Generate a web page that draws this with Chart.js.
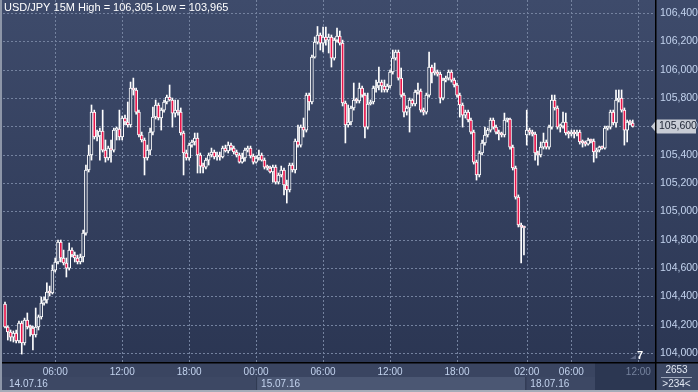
<!DOCTYPE html>
<html>
<head>
<meta charset="utf-8">
<script src="https://cdn.jsdelivr.net/npm/chart.js@4.4.1/dist/chart.umd.min.js"></script>
<style>
  html, body { margin: 0; padding: 0; background: #2f3b58; overflow: hidden; }
  canvas { display: block; }
</style>
</head>
<body>
<canvas id="myChart" width="698" height="392"></canvas>
<script>
// USD/JPY 15 minute candles, 14.07.16 01:30 .. 18.07.16 11:45
const opens = [
  104.346, 104.184, 104.149, 104.113, 104.142, 104.085, 104.212, 104.071, 104.233, 104.184,
  104.177, 104.128, 104.184, 104.255, 104.353, 104.375, 104.431, 104.424, 104.586, 104.643,
  104.784, 104.671, 104.636, 104.600, 104.727, 104.692, 104.671, 104.643, 104.678, 104.847,
  105.292, 105.398, 105.701, 105.525, 105.532, 105.567, 105.433, 105.377, 105.447, 105.433,
  105.574, 105.581, 105.525, 105.659, 105.631, 105.610, 105.871, 105.857, 105.701, 105.539,
  105.504, 105.377, 105.433, 105.560, 105.666, 105.751, 105.659, 105.715, 105.772, 105.807,
  105.786, 105.694, 105.715, 105.701, 105.553, 105.412, 105.377, 105.468, 105.490, 105.518,
  105.398, 105.320, 105.313, 105.362, 105.398, 105.419, 105.384, 105.391, 105.384, 105.447,
  105.426, 105.468, 105.447, 105.419, 105.398, 105.348, 105.377, 105.433, 105.447, 105.391,
  105.348, 105.377, 105.398, 105.362, 105.313, 105.306, 105.278, 105.313, 105.207, 105.257,
  105.292, 105.186, 105.151, 105.327, 105.292, 105.497, 105.468, 105.595, 105.574, 105.821,
  105.772, 106.089, 106.195, 106.245, 106.188, 106.231, 106.209, 106.231, 106.082, 106.209,
  106.238, 106.188, 105.765, 105.610, 105.631, 105.730, 105.786, 105.779, 105.871, 105.821,
  105.595, 105.758, 105.772, 105.871, 105.885, 105.913, 105.885, 105.857, 105.885, 105.984,
  106.082, 106.125, 105.941, 105.821, 105.701, 105.730, 105.786, 105.758, 105.842, 105.850,
  105.715, 105.701, 105.821, 106.019, 105.977, 105.984, 105.969, 105.800, 105.927, 105.941,
  105.984, 105.927, 105.892, 105.821, 105.751, 105.680, 105.701, 105.645, 105.560, 105.348,
  105.257, 105.412, 105.483, 105.539, 105.574, 105.645, 105.595, 105.560, 105.546, 105.539,
  105.645, 105.652, 105.454, 105.306, 105.101, 104.904, 104.890, 105.539, 105.574, 105.560,
  105.546, 105.412, 105.398, 105.454, 105.490, 105.454, 105.595, 105.786, 105.730, 105.595,
  105.602, 105.631, 105.553, 105.546, 105.560, 105.546, 105.560, 105.490, 105.483, 105.475,
  105.504, 105.497, 105.419, 105.433, 105.454, 105.447, 105.588, 105.595, 105.701, 105.624,
  105.786, 105.800, 105.715, 105.574, 105.631, 105.624
];
const highs = [
  104.360, 104.191, 104.163, 104.156, 104.163, 104.226, 104.226, 104.247, 104.283, 104.198,
  104.191, 104.318, 104.269, 104.396, 104.396, 104.495, 104.473, 104.622, 104.671, 104.798,
  104.798, 104.727, 104.671, 104.777, 104.742, 104.713, 104.692, 104.699, 104.868, 105.327,
  105.468, 105.751, 105.715, 105.574, 105.588, 105.715, 105.504, 105.461, 105.504, 105.588,
  105.595, 105.715, 105.673, 105.680, 105.772, 105.913, 105.941, 105.871, 105.715, 105.560,
  105.518, 105.468, 105.588, 105.737, 105.786, 105.765, 105.730, 105.786, 105.821, 105.892,
  105.800, 105.786, 105.786, 105.730, 105.567, 105.433, 105.483, 105.504, 105.553, 105.553,
  105.412, 105.341, 105.377, 105.412, 105.447, 105.433, 105.419, 105.419, 105.461, 105.468,
  105.490, 105.483, 105.461, 105.433, 105.412, 105.412, 105.447, 105.461, 105.461, 105.405,
  105.391, 105.433, 105.412, 105.377, 105.327, 105.320, 105.327, 105.327, 105.271, 105.320,
  105.306, 105.221, 105.341, 105.341, 105.511, 105.610, 105.610, 105.659, 105.835, 105.835,
  106.104, 106.231, 106.305, 106.259, 106.301, 106.301, 106.252, 106.245, 106.224, 106.294,
  106.273, 106.209, 105.779, 105.751, 105.744, 105.906, 105.800, 105.906, 105.885, 105.835,
  105.835, 105.786, 105.885, 105.927, 106.019, 105.927, 105.927, 105.899, 105.998, 106.139,
  106.139, 106.139, 106.012, 105.835, 105.744, 105.800, 105.793, 105.857, 105.906, 105.864,
  105.730, 105.835, 106.125, 106.033, 106.047, 105.998, 105.984, 105.941, 105.955, 105.998,
  105.998, 105.941, 105.906, 105.835, 105.765, 105.715, 105.715, 105.659, 105.574, 105.362,
  105.426, 105.504, 105.595, 105.588, 105.659, 105.659, 105.610, 105.574, 105.560, 105.694,
  105.659, 105.659, 105.468, 105.320, 105.116, 104.918, 104.897, 105.715, 105.588, 105.574,
  105.560, 105.426, 105.490, 105.553, 105.504, 105.610, 105.821, 105.821, 105.744, 105.617,
  105.701, 105.694, 105.567, 105.574, 105.574, 105.574, 105.574, 105.504, 105.497, 105.518,
  105.511, 105.511, 105.447, 105.461, 105.461, 105.602, 105.602, 105.715, 105.715, 105.857,
  105.857, 105.857, 105.730, 105.645, 105.645, 105.645
];
const lows = [
  104.177, 104.092, 104.085, 104.078, 104.071, 104.071, 103.993, 104.057, 104.170, 104.120,
  104.022, 104.113, 104.163, 104.240, 104.339, 104.353, 104.403, 104.417, 104.572, 104.629,
  104.643, 104.622, 104.537, 104.586, 104.678, 104.643, 104.629, 104.629, 104.643, 104.833,
  105.278, 105.362, 105.511, 105.497, 105.362, 105.419, 105.348, 105.362, 105.348, 105.419,
  105.504, 105.504, 105.504, 105.610, 105.595, 105.595, 105.821, 105.687, 105.525, 105.490,
  105.257, 105.362, 105.398, 105.539, 105.652, 105.645, 105.574, 105.701, 105.758, 105.779,
  105.595, 105.666, 105.680, 105.539, 105.257, 105.362, 105.362, 105.454, 105.468, 105.271,
  105.271, 105.271, 105.299, 105.327, 105.384, 105.370, 105.362, 105.362, 105.377, 105.419,
  105.412, 105.433, 105.405, 105.384, 105.341, 105.341, 105.355, 105.419, 105.377, 105.334,
  105.341, 105.362, 105.355, 105.299, 105.292, 105.271, 105.207, 105.193, 105.193, 105.243,
  105.116, 105.059, 105.137, 105.278, 105.271, 105.454, 105.454, 105.525, 105.560, 105.715,
  105.758, 106.082, 106.181, 106.139, 106.125, 106.174, 106.118, 106.019, 106.068, 106.195,
  106.174, 105.744, 105.483, 105.595, 105.610, 105.715, 105.765, 105.765, 105.807, 105.518,
  105.581, 105.751, 105.758, 105.842, 105.857, 105.842, 105.842, 105.842, 105.871, 105.969,
  106.068, 105.927, 105.807, 105.666, 105.680, 105.560, 105.744, 105.744, 105.828, 105.701,
  105.680, 105.687, 105.807, 105.906, 105.962, 105.955, 105.765, 105.786, 105.913, 105.927,
  105.913, 105.878, 105.807, 105.666, 105.595, 105.659, 105.631, 105.546, 105.334, 105.221,
  105.243, 105.398, 105.468, 105.525, 105.560, 105.581, 105.546, 105.504, 105.525, 105.525,
  105.631, 105.440, 105.292, 105.087, 104.890, 104.636, 104.692, 105.468, 105.539, 105.532,
  105.362, 105.327, 105.384, 105.440, 105.440, 105.440, 105.581, 105.715, 105.581, 105.560,
  105.588, 105.539, 105.518, 105.532, 105.518, 105.532, 105.475, 105.454, 105.461, 105.468,
  105.483, 105.348, 105.377, 105.419, 105.440, 105.440, 105.574, 105.581, 105.610, 105.595,
  105.772, 105.701, 105.468, 105.490, 105.610, 105.595
];
const closes = [
  104.184, 104.149, 104.113, 104.142, 104.085, 104.212, 104.071, 104.233, 104.184, 104.177,
  104.128, 104.184, 104.255, 104.353, 104.375, 104.431, 104.424, 104.586, 104.643, 104.784,
  104.671, 104.636, 104.600, 104.727, 104.692, 104.671, 104.643, 104.678, 104.847, 105.292,
  105.398, 105.701, 105.525, 105.532, 105.567, 105.433, 105.377, 105.447, 105.433, 105.574,
  105.581, 105.525, 105.659, 105.631, 105.610, 105.871, 105.857, 105.701, 105.539, 105.504,
  105.377, 105.433, 105.560, 105.666, 105.751, 105.659, 105.715, 105.772, 105.807, 105.786,
  105.694, 105.715, 105.701, 105.553, 105.412, 105.377, 105.468, 105.490, 105.518, 105.398,
  105.320, 105.313, 105.362, 105.398, 105.419, 105.384, 105.391, 105.384, 105.447, 105.426,
  105.468, 105.447, 105.419, 105.398, 105.348, 105.377, 105.433, 105.447, 105.391, 105.348,
  105.377, 105.398, 105.362, 105.313, 105.306, 105.278, 105.313, 105.207, 105.257, 105.292,
  105.186, 105.151, 105.327, 105.292, 105.497, 105.468, 105.595, 105.574, 105.821, 105.772,
  106.089, 106.195, 106.245, 106.188, 106.231, 106.209, 106.231, 106.082, 106.209, 106.238,
  106.188, 105.765, 105.610, 105.631, 105.730, 105.786, 105.779, 105.871, 105.821, 105.595,
  105.758, 105.772, 105.871, 105.885, 105.913, 105.885, 105.857, 105.885, 105.984, 106.082,
  106.125, 105.941, 105.821, 105.701, 105.730, 105.786, 105.758, 105.842, 105.850, 105.715,
  105.701, 105.821, 106.019, 105.977, 105.984, 105.969, 105.800, 105.927, 105.941, 105.984,
  105.927, 105.892, 105.821, 105.751, 105.680, 105.701, 105.645, 105.560, 105.348, 105.257,
  105.412, 105.483, 105.539, 105.574, 105.645, 105.595, 105.560, 105.546, 105.539, 105.645,
  105.652, 105.454, 105.306, 105.101, 104.904, 104.890, 104.883, 105.574, 105.560, 105.546,
  105.412, 105.398, 105.454, 105.490, 105.454, 105.595, 105.786, 105.730, 105.595, 105.602,
  105.631, 105.553, 105.546, 105.560, 105.546, 105.560, 105.490, 105.483, 105.475, 105.504,
  105.497, 105.419, 105.433, 105.454, 105.447, 105.588, 105.595, 105.701, 105.624, 105.786,
  105.800, 105.715, 105.574, 105.631, 105.624, 105.600
];

// axis labels (x is the candle slot index)
const timeTickSlots = [18, 42, 66, 90, 114, 138, 162, 187, 203, 227];
const timeTickLabels = ['06:00', '12:00', '18:00', '00:00', '06:00', '12:00', '18:00', '02:00', '06:00', '12:00'];
const dateLabels = ['14.07.16', '15.07.16', '18.07.16'];
const dateStartSlots = [-0.72, 90, 186.5];
const priceTicks = [104.0, 104.2, 104.4, 104.6, 104.8, 105.0, 105.2, 105.4, 105.6, 105.8, 106.0, 106.2, 106.4];
const chartTitle = 'USD/JPY 15M High = 106,305 Low = 103,965';
const barsCount = '2653';
const barsShown = '>234<';
const shiftMark = '7';

const FONT = 'Liberation Sans, Arial, sans-serif';
const fmt = v => v.toFixed(3).replace('.', ',');

const bodyData = opens.map((o, i) => ({ x: i, y: [o, closes[i]] }));
const wickData = lows.map((l, i) => ({ x: i, y: [l, highs[i]] }));
const bodyColors = opens.map((o, i) => closes[i] >= o ? '#33405f' : '#e8154a');

// background, axis strip, date boxes and the dotted grid
const chartBg = {
  id: 'chartBg',
  beforeDraw(chart) {
    const { ctx, chartArea: a, width, height } = chart;
    const xs = chart.scales.x, ys = chart.scales.y;
    ctx.save();
    const g = ctx.createLinearGradient(0, 0, 0, a.bottom);
    g.addColorStop(0, '#3e4b6b');
    g.addColorStop(1, '#2b3653');
    ctx.fillStyle = g;
    ctx.fillRect(0, 0, width, a.bottom);

    ctx.fillStyle = '#3a4561';
    ctx.fillRect(0, a.bottom, width, height - a.bottom);

    const rowTop = a.bottom + 14;
    for (let i = 0; i < dateLabels.length; i++) {
      const x0 = i === 0 ? 0 : xs.getPixelForValue(dateStartSlots[i]);
      const x1 = i < dateLabels.length - 1 ? xs.getPixelForValue(dateStartSlots[i + 1]) : 595;
      ctx.fillStyle = i % 2 === 1 ? '#4b5773' : '#3d4864';
      ctx.fillRect(x0, rowTop, x1 - x0, 13);
      if (i > 0) {
        ctx.fillStyle = '#2e3850';
        ctx.fillRect(x0, rowTop, 1, 13);
      }
    }
    ctx.fillStyle = '#2c3752';
    ctx.fillRect(595, a.bottom, a.right - 595, 27);
    ctx.fillStyle = '#3c4864';
    ctx.fillRect(a.right, a.bottom, width - a.right, height - a.bottom);

    ctx.fillStyle = '#74829f';
    priceTicks.forEach(v => {
      const y = Math.round(ys.getPixelForValue(v));
      for (let x = Math.ceil(a.left); x < a.right; x += 4) ctx.fillRect(x, y, 2, 1);
    });
    timeTickSlots.forEach(v => {
      const x = Math.round(xs.getPixelForValue(v));
      for (let y = 0; y < a.bottom; y += 4) ctx.fillRect(x, y, 1, 2);
    });
    ctx.restore();
  }
};

// title, date texts, price tag, frame lines
const overlay = {
  id: 'overlay',
  afterDraw(chart) {
    const { ctx, chartArea: a, width, height } = chart;
    const xs = chart.scales.x, ys = chart.scales.y;
    ctx.save();
    ctx.textBaseline = 'middle';

    ctx.font = '11px ' + FONT;
    ctx.fillStyle = '#ffffff';
    ctx.textAlign = 'left';
    ctx.fillText(chartTitle, 4, 8);

    ctx.font = '10px ' + FONT;
    ctx.fillStyle = '#c3d3ee';
    dateLabels.forEach((d, i) => {
      const x0 = i === 0 ? 9 : xs.getPixelForValue(dateStartSlots[i]) + 5;
      ctx.fillText(d, x0, a.bottom + 21);
    });

    ctx.fillStyle = '#5b6684';
    ctx.beginPath();
    ctx.moveTo(630, 359); ctx.lineTo(636, 355); ctx.lineTo(636, 359); ctx.closePath();
    ctx.fill();
    ctx.font = 'bold 11px ' + FONT;
    ctx.fillStyle = '#ffffff';
    ctx.fillText(shiftMark, 637, 356);

    const last = closes[closes.length - 1];
    const py = Math.round(ys.getPixelForValue(last)) + 0.5;
    ctx.fillStyle = '#c8ccd5';
    ctx.beginPath();
    ctx.moveTo(a.right - 4, py);
    ctx.lineTo(a.right + 2, py - 7);
    ctx.lineTo(width - 2, py - 7);
    ctx.lineTo(width - 2, py + 7);
    ctx.lineTo(a.right + 2, py + 7);
    ctx.closePath();
    ctx.fill();
    ctx.font = '10.5px ' + FONT;
    ctx.fillStyle = '#1d2434';
    ctx.fillText(fmt(last), a.right + 4, py);

    ctx.font = '10px ' + FONT;
    ctx.textAlign = 'center';
    ctx.fillStyle = '#e2e8f3';
    const cx = (a.right + width) / 2;
    ctx.fillText(barsCount, cx, a.bottom + 7);
    ctx.fillText(barsShown, cx, a.bottom + 21);
    ctx.fillStyle = '#9aa4b8';
    ctx.fillRect(a.right + 6, a.bottom + 14, width - a.right - 12, 1);

    ctx.fillStyle = '#000000';
    ctx.fillRect(a.right, 0, 1.5, height);
    ctx.fillRect(0, a.bottom - 1, width, 1.5);
    ctx.fillStyle = '#8d96a8';
    ctx.fillRect(0, 0, 2, height);
    ctx.fillStyle = '#a4abb8';
    ctx.fillRect(0, height - 2, width, 2);
    ctx.restore();
  }
};

const ctx = document.getElementById('myChart').getContext('2d');
const myChart = new Chart(ctx, {
  type: 'bar',
  data: {
    datasets: [
      {
        label: 'body',
        data: bodyData,
        backgroundColor: bodyColors,
        borderColor: '#ffffff',
        borderWidth: 1,
        borderSkipped: false,
        barThickness: 3,
        minBarLength: 2,
        grouped: false
      },
      {
        label: 'wick',
        data: wickData,
        backgroundColor: '#ffffff',
        barThickness: 1,
        grouped: false
      }
    ]
  },
  options: {
    responsive: false,
    animation: false,
    layout: { padding: { left: 3, top: 0, right: 0, bottom: 0 } },
    plugins: {
      legend: { display: false },
      tooltip: { enabled: false },
      title: { display: false }
    },
    scales: {
      x: {
        type: 'linear',
        min: -0.72,
        max: 232.97,
        offset: false,
        grid: { display: false, drawTicks: false, offset: false },
        border: { display: false },
        ticks: {
          autoSkip: false,
          maxRotation: 0,
          padding: 3,
          color: c => c.index === timeTickSlots.length - 1 ? '#76839e' : '#c3d3ee',
          font: { family: FONT, size: 10 },
          callback: (v, i) => timeTickLabels[i]
        },
        afterBuildTicks: s => { s.ticks = timeTickSlots.map(v => ({ value: v })); },
        afterFit: s => { s.height = 29; s.paddingLeft = 0; s.paddingRight = 0; }
      },
      y: {
        position: 'right',
        min: 103.930,
        max: 106.492,
        grid: { display: false, drawTicks: false },
        border: { display: false },
        ticks: {
          padding: 5,
          color: '#c3d3ee',
          font: { family: FONT, size: 10.5 },
          callback: v => fmt(v)
        },
        afterBuildTicks: s => { s.ticks = priceTicks.map(v => ({ value: v })); },
        afterFit: s => { s.width = 43; s.paddingTop = 0; s.paddingBottom = 0; }
      }
    }
  },
  plugins: [chartBg, overlay]
});
</script>
</body>
</html>
